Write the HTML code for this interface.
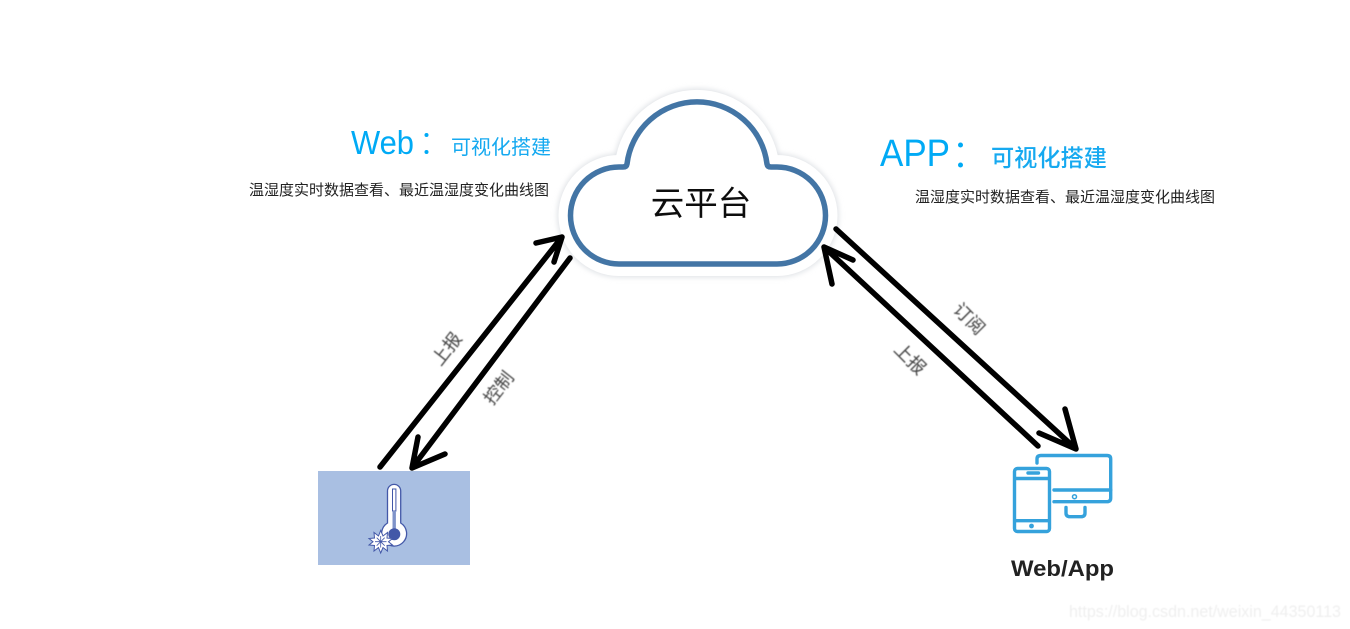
<!DOCTYPE html>
<html>
<head>
<meta charset="utf-8">
<style>
html,body{margin:0;padding:0;background:#fff;width:1350px;height:629px;overflow:hidden}
svg{display:block}
.cjk{font-family:"Liberation Sans","Noto Sans CJK SC",sans-serif}
</style>
</head>
<body>
<svg width="1350" height="629" viewBox="0 0 1350 629" xmlns="http://www.w3.org/2000/svg">
<defs>
<filter id="sh" x="-20%" y="-20%" width="140%" height="140%">
<feGaussianBlur stdDeviation="3"/>
</filter>
<filter id="soft" x="-5%" y="-20%" width="110%" height="140%">
<feGaussianBlur stdDeviation="0.35"/>
</filter>
<filter id="soft2" x="-5%" y="-5%" width="110%" height="110%">
<feGaussianBlur stdDeviation="0.5"/>
</filter>
<path id="cloud" d="M627 164 A70.500 70.500 0 0 1 767 164 Q767.500 167 771 167 L777 167 A48.500 48.500 0 0 1 777 264 L619 264 A48.500 48.500 0 0 1 619 167 L623 167 Q626.500 167 627 164 Z"/>
</defs>
<rect width="1350" height="629" fill="#fff"/>

<!-- cloud -->
<use href="#cloud" fill="#dcdfe3" stroke="#dcdfe3" stroke-width="26" stroke-linejoin="round" filter="url(#sh)"/>
<use href="#cloud" fill="#fff" stroke="#fff" stroke-width="24" stroke-linejoin="round"/>
<use href="#cloud" fill="#fff" stroke="#4375a5" stroke-width="5.500" stroke-linejoin="round"/>
<text x="701" y="215" text-anchor="middle" font-size="33.500" fill="#111" class="cjk" filter="url(#soft)">云平台</text>

<!-- headings -->
<text x="351" y="154" font-size="33" fill="#00aaf5" font-family="Liberation Sans" textLength="63" lengthAdjust="spacingAndGlyphs" filter="url(#soft)">Web</text>
<circle cx="426.500" cy="135" r="2" fill="#00aaf5"/>
<circle cx="426.500" cy="152" r="2" fill="#00aaf5"/>
<text x="451" y="154" font-size="20" fill="#12a9f0" class="cjk" filter="url(#soft)">可视化搭建</text>
<text x="249" y="195" font-size="15" fill="#222" class="cjk" filter="url(#soft)">温湿度实时数据查看、最近温湿度变化曲线图</text>

<text x="880" y="166" font-size="38" fill="#00aaf5" font-family="Liberation Sans" textLength="70" lengthAdjust="spacingAndGlyphs" filter="url(#soft)">APP</text>
<circle cx="960.500" cy="145" r="2.500" fill="#00aaf5"/>
<circle cx="960.500" cy="165" r="2.500" fill="#00aaf5"/>
<text x="991" y="166" font-size="23.200" fill="#12a9f0" font-weight="500" class="cjk" filter="url(#soft)">可视化搭建</text>
<text x="915" y="202" font-size="15" fill="#222" class="cjk" filter="url(#soft)">温湿度实时数据查看、最近温湿度变化曲线图</text>

<!-- arrows -->
<g stroke="#000" stroke-width="5.500" stroke-linecap="round" stroke-linejoin="round" fill="none">
<path d="M380 467 L562 237 M536 243 L562 237 L554 262"/>
<path d="M570 258 L412 468 M418 437 L412 468 L445 454"/>
<path d="M836 229 L1076 449 M1065 409 L1076 449 L1039 433"/>
<path d="M1038 446 L824 247 M853 260 L824 247 L832 284"/>
</g>

<!-- arrow labels -->
<g class="cjk" font-size="18" fill="#444" text-anchor="middle" filter="url(#soft2)">
<text transform="translate(447 349) rotate(-52)" y="6">上报</text>
<text transform="translate(499 388) rotate(-52)" y="6">控制</text>
<text transform="translate(969 319) rotate(45)" y="6">订阅</text>
<text transform="translate(910 359) rotate(45)" y="6">上报</text>
</g>

<!-- sensor -->
<rect x="318" y="471" width="152" height="94" fill="#a9bfe2"/>
<path d="M387.500 523 L387.500 491 A6.600 6.600 0 0 1 400.700 491 L400.700 523 A12.500 12.500 0 1 1 387.500 523 Z" fill="#fff" stroke="#4358a8" stroke-width="1.300"/>
<rect x="392.500" y="489" width="3.400" height="22" fill="#fff" stroke="#4358a8" stroke-width="1"/>
<rect x="392.500" y="511" width="3.400" height="18" fill="#7f93c9"/>
<circle cx="394.300" cy="534.300" r="6" fill="#4358a8"/>
<g stroke="#4358a8" fill="#fff" stroke-width="1">
<polygon points="380.700,530.500 383,536 387.500,532.500 387,538 392.500,538.500 388.500,541.700 392.500,545 387,545.500 387.500,551 383,547.500 380.700,553 378.500,547.500 374,551 374.500,545.500 369,545 373,541.700 369,538.500 374.500,538 374,532.500 378.500,536"/>
<path d="M380.700 536 V547.500 M375 541.700 H386.500 M376.700 537.700 L384.700 545.700 M384.700 537.700 L376.700 545.700" stroke-width="0.800"/>
</g>

<!-- devices -->
<g stroke="#35a2dc" stroke-width="3.400" fill="none" stroke-linecap="round" stroke-linejoin="round" filter="url(#soft)">
<path d="M1037 463 L1037 459 Q1037 455.500 1041 455.500 L1107 455.500 Q1110.700 455.500 1110.700 459 L1110.700 498 Q1110.700 501.700 1107 501.700 L1054 501.700"/>
<path d="M1054 490 L1110.700 490"/>
<circle cx="1074.500" cy="496.700" r="2" stroke-width="1.500"/>
<path d="M1066 507.500 L1066 513 Q1066 516.700 1070 516.700 L1081 516.700 Q1085 516.700 1085 513 L1085 507.500"/>
<rect x="1014.500" y="468.500" width="35" height="63" rx="3"/>
<path d="M1015 478.500 L1049 478.500 M1015 520.700 L1049 520.700 M1028 473 L1038.500 473"/>
</g>
<circle cx="1031.500" cy="526" r="2.400" fill="#35a2dc"/>
<text x="1011" y="576" font-size="22.500" font-weight="bold" fill="#222" font-family="Liberation Sans" textLength="103" lengthAdjust="spacingAndGlyphs" filter="url(#soft)">Web/App</text>

<!-- watermark -->
<text x="1069" y="617" font-size="17" fill="#efefef" font-family="Liberation Sans" textLength="272" lengthAdjust="spacingAndGlyphs" filter="url(#soft2)">https://blog.csdn.net/weixin_44350113</text>
</svg>
</body>
</html>
